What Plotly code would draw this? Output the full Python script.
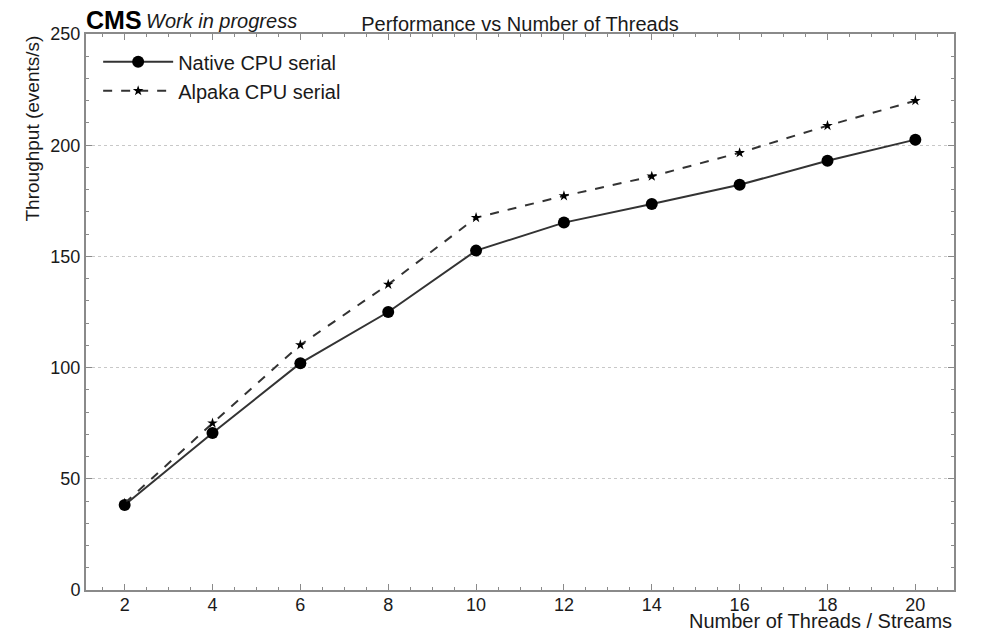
import plotly.graph_objects as go

threads = [2, 4, 6, 8, 10, 12, 14, 16, 18, 20]
native_cpu = [38.2, 70.6, 102, 125, 152.6, 165.2, 173.6, 182.2, 193, 202.5]
alpaka_cpu = [39, 75, 110.2, 137.4, 167.4, 177.2, 186, 196.6, 208.8, 220]

FONT = "Liberation Sans, Arial, Helvetica, sans-serif"
INK = "#1a1a1a"
FRAME = "#8a8a8a"

fig = go.Figure()
fig.add_trace(go.Scatter(
    x=threads, y=native_cpu, name="Native CPU serial", mode="lines+markers",
    line=dict(color="#333333", width=2),
    marker=dict(symbol="circle", size=12, color="#000000"),
))
fig.add_trace(go.Scatter(
    x=threads, y=alpaka_cpu, name="Alpaka CPU serial", mode="lines+markers",
    line=dict(color="#333333", width=2, dash="dash"),
    marker=dict(symbol="star", size=8, color="#000000"),
))

axis_common = dict(
    showline=True, linecolor=FRAME, linewidth=2, mirror="allticks",
    ticks="inside", ticklen=6, tickcolor=FRAME, tickwidth=1,
    tickfont=dict(family=FONT, size=18, color=INK),
    zeroline=False,
)
fig.update_xaxes(
    range=[1.12, 20.88], tickvals=threads, showgrid=False, ticklabelstandoff=-3,
    minor=dict(dtick=0.5, tick0=0, ticks="inside", ticklen=3, tickcolor=FRAME, showgrid=False),
    **axis_common,
)
fig.update_yaxes(
    range=[0, 250], dtick=50, showgrid=True, gridcolor="#c8c8c8", griddash="dot", gridwidth=1,
    minor=dict(dtick=10, ticks="inside", ticklen=3, tickcolor=FRAME, showgrid=False),
    **axis_common,
)

fig.update_layout(
    width=982, height=634,
    margin=dict(l=86, r=28, t=34, b=44),
    paper_bgcolor="white", plot_bgcolor="white",
    font=dict(family=FONT, color=INK),
    showlegend=True,
    legend=dict(x=0.014, y=0.985, xanchor="left", yanchor="top",
                font=dict(family=FONT, size=20, color=INK),
                bgcolor="rgba(0,0,0,0)", itemwidth=70),
    title=dict(text="Performance vs Number of Threads", x=0.5, xref="paper", xanchor="center",
               y=1, yref="paper", yanchor="bottom", pad=dict(b=3),
               font=dict(family=FONT, size=20, color=INK)),
    annotations=[
        dict(text="<b>CMS</b>", x=0, xref="paper", y=1, yref="paper", xanchor="left", yanchor="bottom",
             showarrow=False, font=dict(family=FONT, size=25, color="#000"), xshift=-2, yshift=-2),
        dict(text="<i>Work in progress</i>", x=0, xref="paper", y=1, yref="paper", xanchor="left", yanchor="bottom",
             showarrow=False, font=dict(family=FONT, size=20, color=INK), xshift=58, yshift=0),
        dict(text="Throughput (events/s)", textangle=-90, x=0, xref="paper", y=1, yref="paper",
             xanchor="right", yanchor="top", xshift=-42, yshift=0, showarrow=False,
             font=dict(family=FONT, size=19, color=INK)),
        dict(text="Number of Threads / Streams", x=1, xref="paper", y=0, yref="paper",
             xanchor="right", yanchor="top", yshift=-18, showarrow=False,
             font=dict(family=FONT, size=20, color=INK)),
    ],
)

fig.write_html("out.html")
